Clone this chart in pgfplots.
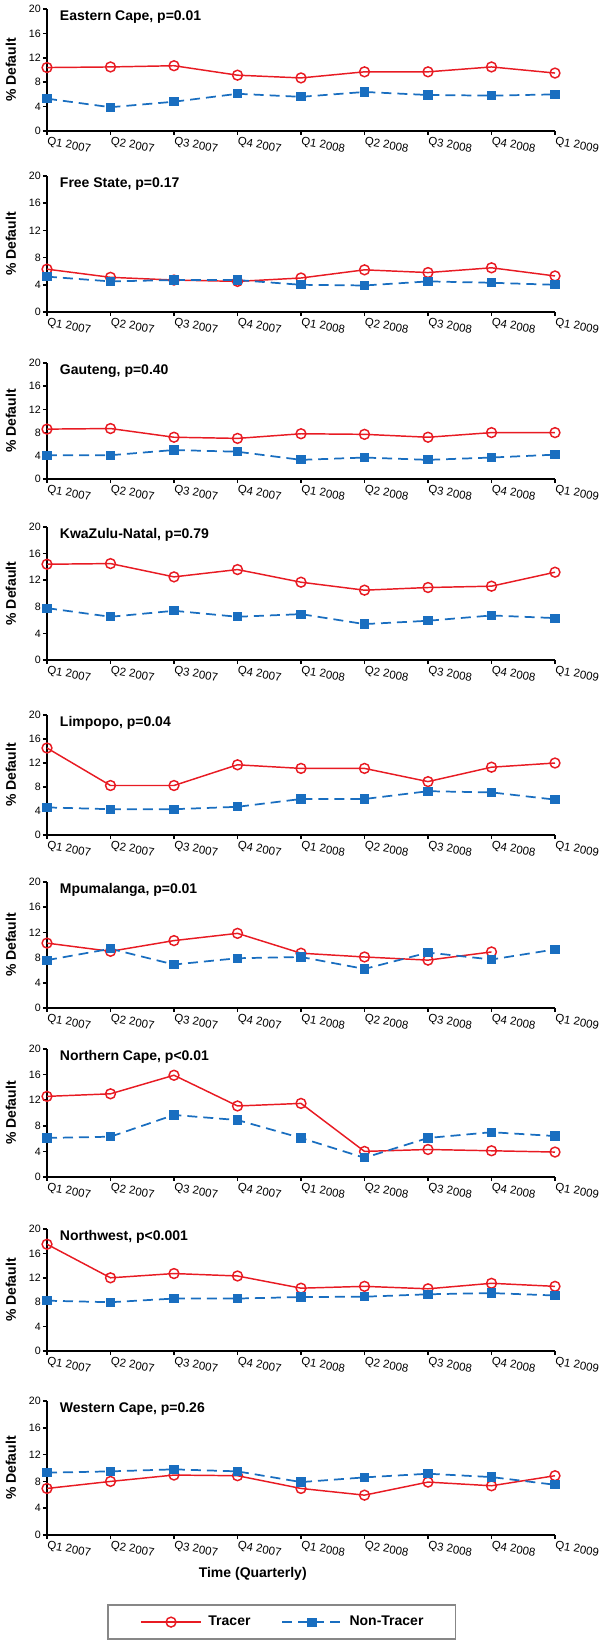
\documentclass[border=0pt]{standalone}
\usepackage{fontspec}
\setmainfont{Liberation Sans}
\usepackage{pgfplots}
\pgfplotsset{compat=1.18}
\definecolor{tred}{RGB}{232,27,35}
\definecolor{tblue}{RGB}{25,110,192}
\definecolor{lgray}{RGB}{135,135,135}
\tikzset{ttl/.style={anchor=north west, inner sep=0pt, font=\bfseries\fontsize{10.5}{12}\selectfont}}
\pgfplotsset{
 panel/.style={
  scale only axis, width=381pt,
  xmin=0, xmax=8, ymin=0, ymax=20,
  axis lines*=left, axis line style={line width=1.5pt, -},
  ytick={0,4,...,20}, xtick={0,...,8},
  xticklabels={Q1 2007,Q2 2007,Q3 2007,Q4 2007,Q1 2008,Q2 2008,Q3 2008,Q4 2008,Q1 2009},
  tick align=outside, major tick length=3pt, tick style={line width=1.1pt, black},
  /pgf/number format/assume math mode=true,
  yticklabel style={font=\fontsize{8}{9}\selectfont, inner sep=1.5pt},
  xticklabel style={font=\fontsize{8.6}{10}\selectfont, rotate=-10, anchor=north west, inner sep=1pt},
  ylabel={\% Default},
  every axis y label/.style={at={(axis description cs:-0.071,0.5)}, rotate=90, anchor=center, font=\bfseries\fontsize{10.5}{12}\selectfont},
  clip=false,
  anchor=south west,
 },
 tracer/.style={tred, line width=1.1pt, mark=o, mark size=3.7pt, mark options={solid, line width=1.1pt, fill=white}},
 nontracer/.style={tblue, line width=1.3pt, dash pattern=on 7.5pt off 4.5pt, mark=square*, mark size=2.8pt, mark options={solid}},
}
\begin{document}
\begin{tikzpicture}
\path[use as bounding box] (-35.25pt,-1132.5pt) rectangle (414.75pt,98.25pt);

% 1 Eastern Cape
\begin{axis}[panel, at={(0pt,0pt)}, height=91.5pt]
\addplot[tracer] coordinates {(0,10.4) (1,10.5) (2,10.7) (3,9.15) (4,8.7) (5,9.7) (6,9.7) (7,10.5) (8,9.5)};
\addplot[nontracer] coordinates {(0,5.3) (1,3.9) (2,4.8) (3,6.1) (4,5.6) (5,6.4) (6,5.9) (7,5.8) (8,6.0)};
\node[ttl] at (rel axis cs:0.025,0.99) {Eastern Cape, p=0.01};
\end{axis}

% 2 Free State
\begin{axis}[panel, at={(0pt,-135.75pt)}, height=102pt]
\addplot[tracer] coordinates {(0,6.3) (1,5.1) (2,4.7) (3,4.5) (4,5.0) (5,6.2) (6,5.8) (7,6.5) (8,5.3)};
\addplot[nontracer] coordinates {(0,5.2) (1,4.5) (2,4.7) (3,4.7) (4,4.0) (5,3.9) (6,4.5) (7,4.3) (8,4.0)};
\node[ttl] at (rel axis cs:0.025,0.99) {Free State, p=0.17};
\end{axis}

% 3 Gauteng
\begin{axis}[panel, at={(0pt,-261pt)}, height=87pt]
\addplot[tracer] coordinates {(0,8.6) (1,8.7) (2,7.2) (3,7.0) (4,7.8) (5,7.7) (6,7.2) (7,8.0) (8,8.0)};
\addplot[nontracer] coordinates {(0,4.1) (1,4.1) (2,5.0) (3,4.7) (4,3.3) (5,3.7) (6,3.3) (7,3.7) (8,4.2)};
\node[ttl] at (rel axis cs:0.025,0.99) {Gauteng, p=0.40};
\end{axis}

% 4 KwaZulu-Natal
\begin{axis}[panel, at={(0pt,-396.75pt)}, height=99.75pt]
\addplot[tracer] coordinates {(0,14.4) (1,14.5) (2,12.5) (3,13.6) (4,11.7) (5,10.5) (6,10.9) (7,11.1) (8,13.2)};
\addplot[nontracer] coordinates {(0,7.8) (1,6.5) (2,7.4) (3,6.5) (4,6.9) (5,5.4) (6,5.9) (7,6.7) (8,6.3)};
\node[ttl] at (rel axis cs:0.025,0.99) {KwaZulu-Natal, p=0.79};
\end{axis}

% 5 Limpopo
\begin{axis}[panel, at={(0pt,-528pt)}, height=90pt]
\addplot[tracer] coordinates {(0,14.5) (1,8.25) (2,8.25) (3,11.7) (4,11.1) (5,11.1) (6,8.9) (7,11.3) (8,12.0)};
\addplot[nontracer] coordinates {(0,4.6) (1,4.3) (2,4.3) (3,4.7) (4,6.0) (5,6.0) (6,7.3) (7,7.1) (8,5.9)};
\node[ttl] at (rel axis cs:0.025,0.99) {Limpopo, p=0.04};
\end{axis}

% 6 Mpumalanga
\begin{axis}[panel, at={(0pt,-657.75pt)}, height=94.5pt]
\addplot[tracer] coordinates {(0,10.3) (1,9.0) (2,10.7) (3,11.85) (4,8.7) (5,8.1) (6,7.6) (7,8.9)};
\addplot[nontracer] coordinates {(0,7.6) (1,9.4) (2,6.9) (3,7.9) (4,8.1) (5,6.2) (6,8.8) (7,7.7) (8,9.3)};
\node[ttl] at (rel axis cs:0.025,0.99) {Mpumalanga, p=0.01};
\end{axis}

% 7 Northern Cape
\begin{axis}[panel, at={(0pt,-784.5pt)}, height=96pt]
\addplot[tracer] coordinates {(0,12.6) (1,13.0) (2,15.9) (3,11.1) (4,11.5) (5,4.0) (6,4.3) (7,4.1) (8,3.9)};
\addplot[nontracer] coordinates {(0,6.1) (1,6.3) (2,9.7) (3,8.9) (4,6.1) (5,3.0) (6,6.1) (7,7.0) (8,6.4)};
\node[ttl] at (rel axis cs:0.025,0.99) {Northern Cape, p<0.01};
\end{axis}

% 8 Northwest
\begin{axis}[panel, at={(0pt,-915pt)}, height=91.5pt]
\addplot[tracer] coordinates {(0,17.5) (1,12.0) (2,12.7) (3,12.3) (4,10.3) (5,10.6) (6,10.2) (7,11.1) (8,10.6)};
\addplot[nontracer] coordinates {(0,8.25) (1,8.0) (2,8.6) (3,8.6) (4,8.85) (5,8.9) (6,9.3) (7,9.5) (8,9.1)};
\node[ttl] at (rel axis cs:0.025,0.99) {Northwest, p<0.001};
\end{axis}

% 9 Western Cape
\begin{axis}[panel, at={(0pt,-1053pt)}, height=100.5pt,
  xlabel={Time (Quarterly)},
  every axis x label/.style={at={(axis description cs:0.405,0)}, anchor=center, yshift=-29pt, font=\bfseries\fontsize{10.5}{12}\selectfont},
  legend columns=2,
  legend style={at={(0.119,-0.65)}, anchor=west, draw=lgray, line width=1.3pt, inner xsep=24pt, inner ysep=8.5pt,
    nodes={inner sep=0pt},
    font=\bfseries\fontsize{10.5}{12}\selectfont,
    /tikz/every odd column/.append style={column sep=5pt},
    /tikz/every even column/.append style={column sep=23pt}},
  legend image code/.code={\draw[#1, mark repeat=2, mark phase=2] plot coordinates {(0pt,0pt) (22.5pt,0pt) (45pt,0pt)};},
]
\addplot[tracer] coordinates {(0,6.95) (1,8.0) (2,8.95) (3,8.85) (4,6.95) (5,5.95) (6,7.9) (7,7.35) (8,8.85)};
\addlegendentry{Tracer}
\addplot[nontracer] coordinates {(0,9.3) (1,9.5) (2,9.8) (3,9.5) (4,7.9) (5,8.6) (6,9.15) (7,8.65) (8,7.5)};
\addlegendentry{Non-Tracer\hspace{26pt}}
\node[ttl] at (rel axis cs:0.025,0.99) {Western Cape, p=0.26};
\end{axis}
\end{tikzpicture}
\end{document}
